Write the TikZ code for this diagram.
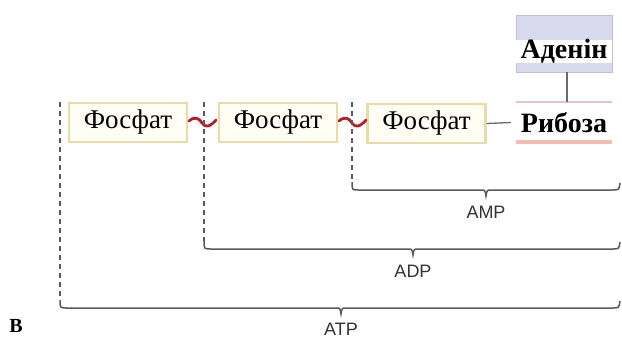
\documentclass[tikz,border=0pt]{standalone}
\usepackage{fontspec}
\setmainfont{Liberation Serif}
\newfontfamily\labelfont{Liberation Sans}
\begin{document}
\begin{tikzpicture}[x=1pt,y=-1pt,
  phosbox/.style={draw=phosedge,line width=2.2pt,fill=phosfill,minimum width=118pt,minimum height=39pt,inner sep=0pt,font=\fontsize{27}{27}\selectfont},
  bond/.style={draw=bondred,line width=2.8pt,line cap=round},
  link/.style={draw=linkgray,line width=1.3pt},
  guide/.style={draw=bracegray,line width=1.3pt,dash pattern=on 5pt off 4pt},
  bracket/.style={draw=bracegray,line width=1.5pt},
  molname/.style={font=\labelfont\fontsize{18}{18}\selectfont,text=labeltext}]
\definecolor{phosedge}{HTML}{EBD9A8}
\definecolor{phosfill}{HTML}{FFFEF5}
\definecolor{bondred}{HTML}{B51F2C}
\definecolor{linkgray}{HTML}{6A6A6A}
\definecolor{bracegray}{HTML}{5A5A5A}
\definecolor{labeltext}{HTML}{333333}
\definecolor{adeninefill}{HTML}{D9D9EE}
\definecolor{adenineedge}{HTML}{BFBFD9}
\definecolor{ribosetop}{HTML}{E6C4C4}
\definecolor{ribosebar}{HTML}{F2BCAE}
\useasboundingbox (0,0) rectangle (622,338);
\fill[white] (0,0) rectangle (622,338);

% phosphate groups
\node[phosbox] (p1) at (128,122.5) {Фосфат};
\node[phosbox] (p2) at (278,122.5) {Фосфат};
\node[phosbox] (p3) at (426.5,123.5) {Фосфат};

% adenine
\fill[adeninefill,draw=adenineedge,line width=0.8pt] (516,15) rectangle (612,72);
\fill[white] (516,40) rectangle (612,63);
\node[inner sep=0pt,font=\bfseries\fontsize{28}{28}\selectfont] (aden) at (564,51.5) {Аденін};
\coordinate (adenbot) at (567,72);

% ribose
\node[inner sep=0pt,minimum width=96pt,minimum height=41pt,font=\bfseries\fontsize{28}{28}\selectfont] (rib) at (564,122.5) {Рибоза};
\draw[ribosetop,line width=1.8pt] (rib.north west) -- (rib.north east);
\draw[ribosebar,line width=4pt] ([yshift=1pt]rib.south west) -- ([yshift=1pt]rib.south east);
\coordinate (ribtop) at (567,102);
\coordinate (ribin) at (511,122.5);

% bonds between the parts
\draw[link] (adenbot) -- (ribtop);
\draw[link] (p3.east) -- (ribin);
\draw[bond] (189,121) .. controls (195,116) and (199,118) .. (202,123) .. controls (205,128) and (210,127) .. (216,120);
\draw[bond] (339,121) .. controls (345,116) and (349,118) .. (352,123) .. controls (355,128) and (360,127) .. (366,120);

% dashed guides and brackets
\coordinate (atpL) at (60,102);
\coordinate (adpL) at (204,102);
\coordinate (ampL) at (352,102);

\draw[guide] (ampL) -- (352,182);
\draw[bracket] (352,182) .. controls (352,190) .. (359,190) -- (481,190)
  .. controls (485,190) .. (486,196) .. controls (487,190) .. (491,190) -- (612,190)
  .. controls (619,190) .. (620,183);
\node[molname] (amp) at (486,212) {AMP};

\draw[guide] (adpL) -- (204,241);
\draw[bracket] (204,241) .. controls (204,249) .. (211,249) -- (408,249)
  .. controls (412,249) .. (413,255) .. controls (414,249) .. (418,249) -- (612,249)
  .. controls (619,249) .. (620,242);
\node[molname] (adp) at (413,271) {ADP};

\draw[guide] (atpL) -- (60,300);
\draw[bracket] (60,300) .. controls (60,308) .. (67,308) -- (336,308)
  .. controls (340,308) .. (341,314) .. controls (342,308) .. (346,308) -- (612,308)
  .. controls (619,308) .. (620,301);
\node[molname] (atp) at (341,329) {ATP};

\node[font=\bfseries\fontsize{20}{20}\selectfont] (panel) at (16,326) {В};
\end{tikzpicture}
\end{document}
